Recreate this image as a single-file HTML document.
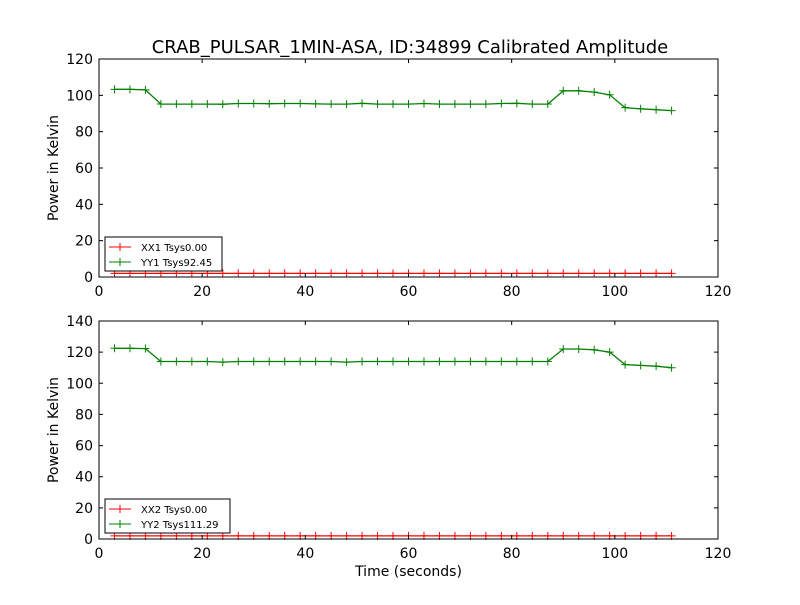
<!DOCTYPE html>
<html><head><meta charset="utf-8"><style>
body{margin:0;background:#fff;font-family:"Liberation Sans",sans-serif}
svg text{font-family:"DejaVu Sans","Liberation Sans",sans-serif}
</style></head><body>
<svg id="c" width="800" height="600" xmlns="http://www.w3.org/2000/svg">
<rect width="800" height="600" fill="#fff"/>
<text x="410" y="53" font-size="18" text-anchor="middle">CRAB_PULSAR_1MIN-ASA, ID:34899 Calibrated Amplitude</text>
</svg>
<script>
const times=[3,6,9,12,15,18,21,24,27,30,33,36,39,42,45,48,51,54,57,60,63,66,69,72,75,78,81,84,87,90,93,96,99,102,105,108,111];
const yy1=[103.3,103.3,103,95.2,95.2,95.2,95.2,95.1,95.5,95.5,95.4,95.5,95.5,95.3,95.2,95.2,95.6,95.2,95.2,95.2,95.5,95.2,95.2,95.2,95.2,95.5,95.6,95.2,95.2,102.5,102.5,101.8,100.3,93.2,92.6,92.1,91.6];
const xx1=times.map(()=>2);
const yy2=[122.5,122.5,122.3,114,114,114,114,113.6,114,114,114,114,114,114,114,113.6,114,114,114,114,114,114,114,114,114,114,114,114,114,122,122,121.5,120,112,111.5,111,110];
const xx2=times.map(()=>2);
const xTicks=[0,20,40,60,80,100,120];
const yTicks1=[0,20,40,60,80,100,120];
const yTicks2=[0,20,40,60,80,100,120,140];
const svg=document.getElementById('c');
const NS='http://www.w3.org/2000/svg';
function mk(t,a,p){const e=document.createElementNS(NS,t);for(const k in a)e.setAttribute(k,a[k]);(p||svg).appendChild(e);return e;}
function panel(top,bottom,ymax,yTicks,series,labels,idx,xlabel){
 const L=99,R=718;
 const xs=v=>L+(v/120)*(R-L);
 const ys=v=>bottom-(v/ymax)*(bottom-top);
 const g=mk('g',{});
 
 
 series.forEach((s,si)=>{
  const col=s.color;
  const pts=s.data.map((v,i)=>xs(times[i]).toFixed(1)+','+ys(v).toFixed(1)).join(' ');
  const pl=mk('polyline',{points:pts,fill:'none',stroke:col,'stroke-width':1.3},g);
  
  
  s.data.forEach((v,i)=>{
   const x=xs(times[i]),y=ys(v);
   mk('path',{d:`M${x-4},${y}H${x+4}M${x},${y-4}V${y+4}`,stroke:col,'stroke-width':1},g);
  });
 });
 const fr=mk('rect',{x:L,y:top,width:R-L,height:bottom-top,fill:'none',stroke:'#000','stroke-width':1},g);
 
 
 xTicks.forEach(t=>{const x=xs(t);
  mk('path',{d:`M${x},${bottom}v-4M${x},${top}v4`,stroke:'#000'},g);
  const tx=mk('text',{x:x,y:bottom+19,'font-size':14,'text-anchor':'middle'},g);tx.textContent=t;
  
  
 });
 yTicks.forEach(t=>{const y=ys(t);
  mk('path',{d:`M${L},${y}h4M${R},${y}h-4`,stroke:'#000'},g);
  const tx=mk('text',{x:L-6,y:y+5,'font-size':14,'text-anchor':'end'},g);tx.textContent=t;
  
  
 });
 const yl=mk('text',{x:0,y:0,'font-size':14,'text-anchor':'middle',transform:`translate(58,${(top+bottom)/2}) rotate(-90)`},g);
 yl.textContent='Power in Kelvin';
 
 
 if(xlabel){const xl=mk('text',{x:(L+R)/2,y:bottom+37,'font-size':14,'text-anchor':'middle'},g);xl.textContent=xlabel;
  
  }
 const lw=labels.w, ly=bottom-40;
 const lg=mk('g',{},g);
 
 
 mk('rect',{x:105,y:ly,width:lw,height:34,fill:'#fff',stroke:'#000'},lg);
 series.forEach((s,si)=>{const y=ly+10+si*15;
  mk('path',{d:`M109,${y}H131M120,${y-4}V${y+4}`,stroke:s.color,'stroke-width':1},lg);
  const t=mk('text',{x:141,y:y+4,'font-size':10},lg);t.textContent=s.label;
  
  
 });
}
panel(59,277,120,yTicks1,[{name:'XX1',data:xx1,color:'#ff0000',label:'XX1 Tsys0.00'},{name:'YY1',data:yy1,color:'#008000',label:'YY1 Tsys92.45'}],{w:117},1,null);
panel(321,539,140,yTicks2,[{name:'XX2',data:xx2,color:'#ff0000',label:'XX2 Tsys0.00'},{name:'YY2',data:yy2,color:'#008000',label:'YY2 Tsys111.29'}],{w:125},2,'Time (seconds)');
</script>
</body></html>
